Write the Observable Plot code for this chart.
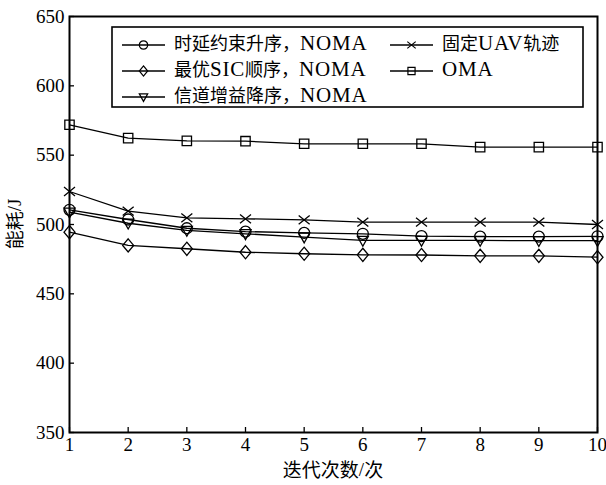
<!DOCTYPE html>
<html><head><meta charset="utf-8">
<script src="https://cdn.jsdelivr.net/npm/d3@7"></script>
<script src="https://cdn.jsdelivr.net/npm/@observablehq/plot@0.6"></script>
<style>body{margin:0;background:#fff} svg{display:block}</style>
</head><body><div id="chart"></div>
<script>
const iterations = [1,2,3,4,5,6,7,8,9,10];
const delayAsc   = [510.6,503.6,497.3,494.9,494.0,493.3,491.6,491.3,491.3,491.5];
const optimalSIC = [494.5,484.9,482.5,480.0,478.9,478.1,478.0,477.4,477.4,476.4];
const gainDesc   = [508.9,500.9,495.7,493.3,490.9,488.5,488.5,488.5,488.3,488.3];
const fixedUAV   = [523.8,509.6,504.8,504.1,503.4,501.7,501.7,501.7,501.7,500.0];
const oma        = [571.9,562.3,560.3,560.1,558.2,558.2,558.2,555.8,555.8,555.8];
const seriesNames = ["时延约束升序，NOMA","最优SIC顺序，NOMA","信道增益降序，NOMA","固定UAV轨迹","OMA"];
const yTicks = [350,400,450,500,550,600,650];
const xTicks = iterations;
const xLabel = "迭代次数/次";
const yLabel = "能耗/J";

// custom marker symbols
const rad = s => Math.sqrt(s / Math.PI);
const symCircle = {draw(c, s){const r = rad(s); c.moveTo(r,0); c.arc(0,0,r,0,2*Math.PI);}};
const symDiamond = {draw(c, s){const r = rad(s); const w = r*1.0, h = r*1.2; c.moveTo(0,-h); c.lineTo(w,0); c.lineTo(0,h); c.lineTo(-w,0); c.closePath();}};
const symTriDown = {draw(c, s){const r = rad(s); c.moveTo(-r,-r*0.75); c.lineTo(r,-r*0.75); c.lineTo(0,r*1.05); c.closePath();}};
const symTimes = {draw(c, s){const r = rad(s); c.moveTo(-r,-r*0.8); c.lineTo(r,r*0.8); c.moveTo(r,-r*0.8); c.lineTo(-r,r*0.8);}};
const symSquare = {draw(c, s){const r = rad(s)*0.85; c.rect(-r,-r,2*r,2*r);}};

const seriesValues = [delayAsc, optimalSIC, gainDesc, fixedUAV, oma];
const seriesSymbols = [symCircle, symDiamond, symTriDown, symTimes, symSquare];
const data = seriesNames.flatMap((name, i) => iterations.map((x, j) => ({series: name, x, y: seriesValues[i][j]})));

const font = '"Liberation Serif","Noto Sans CJK SC",serif';
const cjkFont = '"Noto Sans CJK SC","Liberation Serif",serif';
const marks = [
  Plot.axisX({ticks: xTicks, tickSize: 0, tickPadding: 5, fontSize: 19, label: null}),
  Plot.axisX({ticks: xTicks, tickSize: 5, dy: -5, tickFormat: () => "", label: null, strokeWidth: 1.3}),
  Plot.axisY({ticks: yTicks, tickSize: 0, tickPadding: 5, fontSize: 19, label: null}),
  Plot.axisY({ticks: yTicks, tickSize: 5, dx: 5, tickFormat: () => "", label: null, strokeWidth: 1.3}),
  Plot.line(data, {x: "x", y: "y", z: "series", stroke: "black", strokeWidth: 1.3}),
  ...seriesNames.map((name, i) => Plot.dot(data.filter(d => d.series === name), {x: "x", y: "y", symbol: seriesSymbols[i], r: 5.5, stroke: "black", fill: "none", strokeWidth: 1.3})),
  Plot.frame({stroke: "black", strokeWidth: 2})
];

const chart = Plot.plot({
  width: 606, height: 485,
  marginLeft: 69, marginRight: 9, marginTop: 16, marginBottom: 53,
  x: {domain: [1, 10]},
  y: {domain: [350, 650]},
  style: {fontFamily: font, fontSize: "19px", color: "#000", background: "#fff", overflow: "visible"},
  marks
});
document.getElementById("chart").append(chart);

// mixed CJK / Latin text helper
function mixedText(sel, str, cjkSize, latinSize, latinSpacing) {
  const runs = str.match(/[A-Za-z0-9\/]+|[^A-Za-z0-9\/]+/g);
  runs.forEach(run => {
    const latin = /^[A-Za-z0-9\/]+$/.test(run);
    sel.append("tspan")
      .attr("font-family", latin ? font : cjkFont)
      .attr("font-size", latin ? latinSize : cjkSize)
      .attr("letter-spacing", latin ? latinSpacing : 0)
      .text(run);
  });
}

// axis titles and legend
const svg = d3.select(chart);
const xt = svg.append("text").attr("x", 333).attr("y", 472).attr("text-anchor", "middle").attr("dominant-baseline", "middle").attr("fill", "#000");
mixedText(xt, xLabel, 19, 19, 0);
const yt = svg.append("text").attr("transform", "translate(17,224) rotate(-90)").attr("text-anchor", "middle").attr("dominant-baseline", "middle").attr("fill", "#000");
mixedText(yt, yLabel, 19, 19, 0);

const lg = svg.append("g");
lg.append("rect").attr("x", 112).attr("y", 27).attr("width", 471).attr("height", 80)
  .attr("fill", "white").attr("stroke", "black").attr("stroke-width", 1.6);
const legendPos = [[0,0],[0,1],[0,2],[1,0],[1,1]];
const colX = [122, 390], rowY = [45, 71, 97];
seriesNames.forEach((name, i) => {
  const [c, r] = legendPos[i];
  const x0 = colX[c], y0 = rowY[r];
  lg.append("line").attr("x1", x0).attr("x2", x0 + 43).attr("y1", y0).attr("y2", y0).attr("stroke", "black").attr("stroke-width", 1.3);
  const p = d3.path(); seriesSymbols[i].draw(p, Math.PI * 4.2 * 4.2);
  lg.append("path").attr("d", p.toString()).attr("transform", `translate(${x0 + 21.5},${y0})`).attr("fill", "none").attr("stroke", "black").attr("stroke-width", 1.2);
  const t = lg.append("text").attr("x", x0 + 52).attr("y", y0).attr("text-anchor", "start").attr("dominant-baseline", "middle").attr("fill", "#000");
  mixedText(t, name, 18, 21, 0.8);
});
</script>
</body></html>
